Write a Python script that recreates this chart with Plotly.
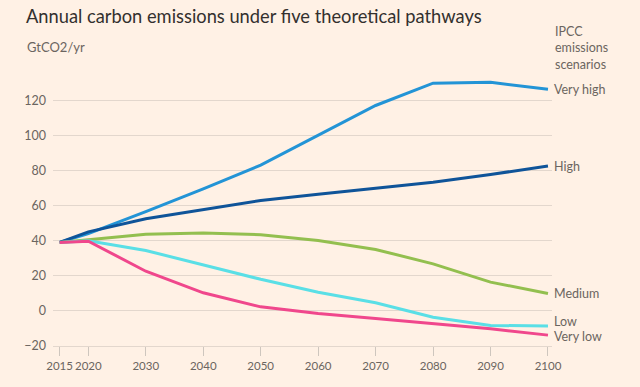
import plotly.graph_objects as go

years = [2015, 2020, 2030, 2040, 2050, 2060, 2070, 2080, 2090, 2100]
very_high = [39, 44, 56.5, 69.5, 83, 100, 117, 129.7, 130.2, 126.2]
high = [39, 45, 52.5, 57.8, 62.9, 66.5, 70.1, 73.3, 77.7, 82.5]
medium = [39, 40.5, 43.6, 44.3, 43.4, 40.1, 35, 26.8, 16.4, 9.9]
low = [39, 40, 34.4, 26.4, 18, 10.6, 4.6, -3.6, -8.3, -8.6]
very_low = [39, 39.7, 22.6, 10.3, 2.3, -1.5, -4.3, -7.2, -10.2, -13.8]

series_names = ["Very high", "High", "Medium", "Low", "Very low"]
series_values = [very_high, high, medium, low, very_low]
colors = ["#2394D6", "#0F5499", "#93BF4F", "#5ADFE6", "#F0478C"]
label_yshift = [0, 0, 0, 4, -1]

ytick_vals = [-20, 0, 20, 40, 60, 80, 100, 120]
xtick_vals = years

W, H = 640, 387
L, R, T, B = 53, 88, 76, 41
PW, PH = W - L - R, H - T - B

def px(x):
    return (x - L) / PW

def py(y):
    return (H - B - y) / PH

FONT = "Lato, sans-serif"
TXT = "#6B6560"

fig = go.Figure()
for name, vals, c in zip(series_names, series_values, colors):
    fig.add_trace(go.Scatter(x=years, y=vals, mode="lines", name=name,
                             line=dict(color=c, width=3), showlegend=False,
                             hoverinfo="skip"))

for name, vals, shift in zip(series_names, series_values, label_yshift):
    fig.add_annotation(x=years[-1], y=vals[-1], text=name, showarrow=False,
                       xanchor="left", yanchor="middle", xshift=4, yshift=shift,
                       font=dict(size=12.5, color=TXT))

fig.add_annotation(x=px(25), y=py(47), xref="paper", yref="paper",
                   text="GtCO2/yr", showarrow=False, xanchor="left",
                   yanchor="middle", font=dict(size=13, color=TXT))
fig.add_annotation(x=px(553), y=py(22), xref="paper", yref="paper",
                   text="IPCC<br>emissions<br>scenarios", showarrow=False,
                   xanchor="left", yanchor="top", align="left",
                   font=dict(size=12.5, color=TXT))

bg = "#FFF1E5"
grid = "#E3D7CD"
fig.update_layout(
    width=W, height=H,
    paper_bgcolor=bg, plot_bgcolor=bg,
    margin=dict(l=L, r=R, t=T, b=B),
    font=dict(family=FONT, color=TXT, size=13),
    title=dict(text="Annual carbon emissions under five theoretical pathways",
               x=26 / W, xanchor="left", y=1 - 17 / H, yanchor="middle",
               font=dict(size=18.3, color="#33302E")),
    xaxis=dict(range=[2013.85, 2100.7], tickvals=xtick_vals, showgrid=False,
               ticks="outside", ticklen=9, tickcolor="#CEC6BE", tickwidth=1,
               showline=True, linecolor=grid, linewidth=1, zeroline=False,
               tickangle=0, automargin=False,
               tickfont=dict(size=11.5, color=TXT)),
    yaxis=dict(range=[-20, 133.8], tickvals=ytick_vals, showgrid=True,
               gridcolor=grid, gridwidth=1, zeroline=False, automargin=False,
               ticks="", ticklabelstandoff=6,
               tickfont=dict(size=12.5, color=TXT)),
)

fig.write_html("out.html", config={"displayModeBar": False},
               post_script="document.body.style.margin='0';")
